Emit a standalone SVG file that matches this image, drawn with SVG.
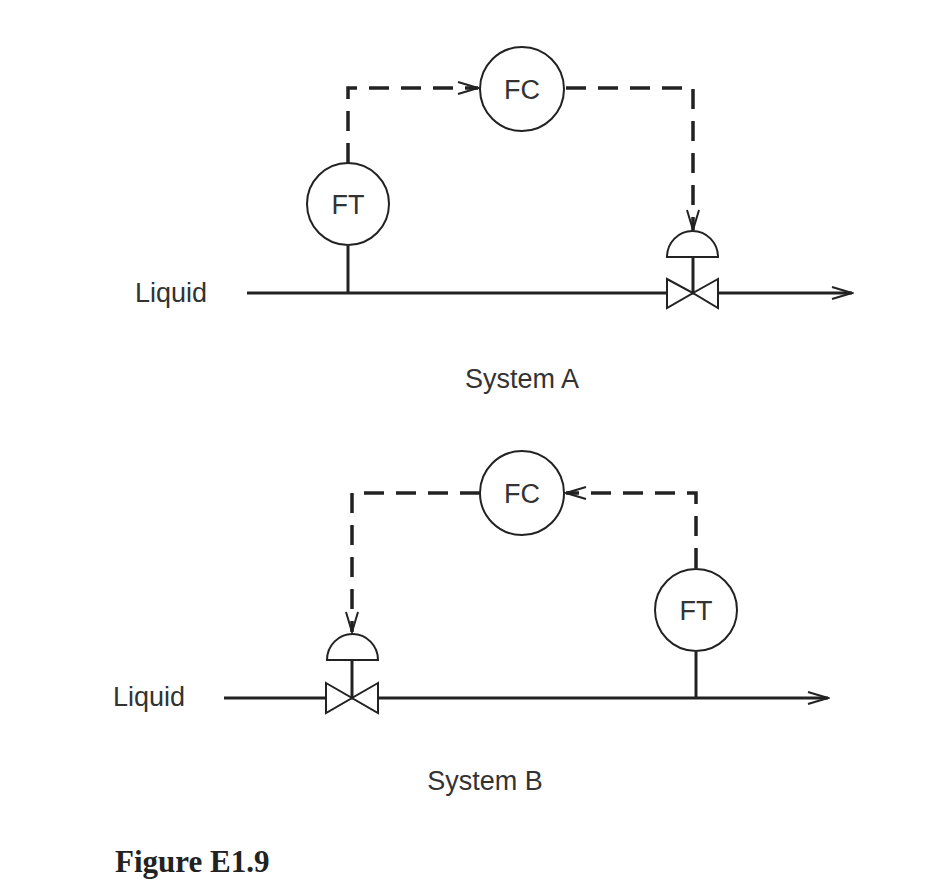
<svg xmlns="http://www.w3.org/2000/svg" width="948" height="894" viewBox="0 0 948 894">
<style>
.ln{stroke:#222;stroke-width:3;fill:none}
.dash{stroke:#222;stroke-width:3.5;fill:none;stroke-dasharray:20,12}
.c{stroke:#222;stroke-width:2;fill:#fff}
.t{font-family:"Liberation Sans",Arial,sans-serif;font-size:27px;fill:#333}
.v{stroke:#222;stroke-width:2;fill:#fff}
</style>
<defs>
<marker id="ah" markerWidth="24" markerHeight="16" refX="22" refY="8" orient="auto" markerUnits="userSpaceOnUse">
<path d="M2,2 L22,8 L2,14" fill="none" stroke="#222" stroke-width="2"/>
</marker>
</defs>
<rect width="948" height="894" fill="#fff"/>
<g id="connectors">
<line class="ln" x1="247" y1="293" x2="852" y2="293" marker-end="url(#ah)"/>
<line class="ln" x1="348" y1="246" x2="348" y2="293"/>
<polyline class="dash" points="348,163 348,88 478,88" marker-end="url(#ah)"/>
<polyline class="dash" points="566,88 693,88 693,230" marker-end="url(#ah)"/>
<line class="ln" x1="224" y1="698" x2="828" y2="698" marker-end="url(#ah)"/>
<line class="ln" x1="696" y1="652" x2="696" y2="698"/>
<polyline class="dash" points="696,568 696,493 566,493" marker-end="url(#ah)"/>
<polyline class="dash" points="480,493 352,493 352,632" marker-end="url(#ah)"/>
</g>
<g id="ftA"><circle class="c" cx="348" cy="204" r="41"/><text class="t" x="348" y="214" text-anchor="middle">FT</text></g>
<g id="fcA"><circle class="c" cx="522" cy="89" r="42"/><text class="t" x="522" y="99" text-anchor="middle">FC</text></g>
<g id="valveA">
<line class="ln" x1="693" y1="257" x2="693" y2="293" stroke-width="2"/>
<path class="v" d="M667,257 A25.5,26 0 0 1 718,257 Z"/>
<path class="v" d="M667,279 L693,293 L667,308 Z M718,279 L693,293 L718,308 Z"/>
</g>
<g id="ftB"><circle class="c" cx="696" cy="610" r="41"/><text class="t" x="696" y="620" text-anchor="middle">FT</text></g>
<g id="fcB"><circle class="c" cx="522" cy="493" r="42"/><text class="t" x="522" y="503" text-anchor="middle">FC</text></g>
<g id="valveB">
<line class="ln" x1="352" y1="660" x2="352" y2="698" stroke-width="2"/>
<path class="v" d="M327,660 A25.5,26 0 0 1 378,660 Z"/>
<path class="v" d="M326,683 L352,698 L326,713 Z M378,683 L352,698 L378,713 Z"/>
</g>
<g id="labels">
<text class="t" x="135" y="302">Liquid</text>
<text class="t" x="522" y="388" text-anchor="middle">System A</text>
<text class="t" x="113" y="706">Liquid</text>
<text class="t" x="485" y="790" text-anchor="middle">System B</text>
<text x="115" y="872" font-family="Liberation Serif,serif" font-weight="bold" font-size="31" fill="#222">Figure E1.9</text>
</g>
</svg>
